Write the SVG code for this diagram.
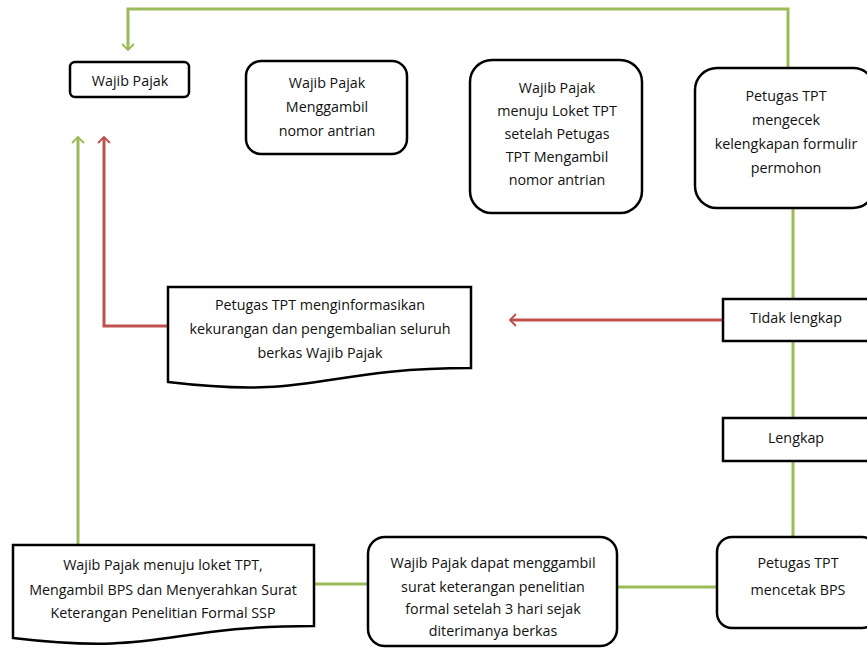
<svg xmlns="http://www.w3.org/2000/svg" width="867" height="648" viewBox="0 0 867 648">
<defs>
<style>
.box{fill:#fff;stroke:#000;stroke-width:2.5}
.t{font-family:"Open Sans","Liberation Sans",sans-serif;font-size:14.3px;fill:#111;text-anchor:middle}
.g{fill:none;stroke:#9BBB59;stroke-width:3}
.r{fill:none;stroke:#C0504D;stroke-width:3}
</style>
<marker id="ag" viewBox="0 0 12 12" refX="10" refY="6" markerWidth="6.5" markerHeight="6.5" markerUnits="userSpaceOnUse" orient="auto" overflow="visible">
<path d="M-1,-5 L10,6 L-1,17" fill="none" stroke="#9BBB59" stroke-width="3.5"/>
</marker>
<marker id="ar" viewBox="0 0 12 12" refX="10" refY="6" markerWidth="6.5" markerHeight="6.5" markerUnits="userSpaceOnUse" orient="auto" overflow="visible">
<path d="M-1,-5 L10,6 L-1,17" fill="none" stroke="#C0504D" stroke-width="3.5"/>
</marker>
</defs>
<rect width="867" height="648" fill="#fff"/>
<g id="connectors">
<path class="g" d="M788,69 V9 H128 V50" marker-end="url(#ag)"/>
<path class="g" d="M793,208 V299 M793,341 V418 M793,461 V537"/>
<path class="r" d="M723,320 H510" marker-end="url(#ar)"/>
<path class="r" d="M168,326 H104 V137" marker-end="url(#ar)"/>
<path class="g" d="M78,545 V137" marker-end="url(#ag)"/>
<path class="g" d="M314,584 H368"/>
<path class="g" d="M617,587 H717"/>
</g>
<g id="n1">
<rect class="box" x="70" y="62" width="119" height="35" rx="5"/>
<text class="t" x="130" y="86">Wajib Pajak</text>
</g>
<g id="n2">
<rect class="box" x="246" y="61" width="161" height="93" rx="15"/>
<text class="t" x="327" y="88">Wajib Pajak</text>
<text class="t" x="327" y="112">Menggambil</text>
<text class="t" x="327" y="136">nomor antrian</text>
</g>
<g id="n3">
<rect class="box" x="470" y="60" width="172" height="153" rx="22"/>
<text class="t" x="557" y="93">Wajib Pajak</text>
<text class="t" x="557" y="116">menuju Loket TPT</text>
<text class="t" x="557" y="139">setelah Petugas</text>
<text class="t" x="557" y="162">TPT Mengambil</text>
<text class="t" x="557" y="185">nomor antrian</text>
</g>
<g id="n4">
<rect class="box" x="695" y="68" width="180" height="140" rx="22"/>
<text class="t" x="786" y="101">Petugas TPT</text>
<text class="t" x="786" y="125">mengecek</text>
<text class="t" x="786" y="149">kelengkapan formulir</text>
<text class="t" x="786" y="173">permohon</text>
</g>
<g id="n5">
<rect class="box" x="723" y="299" width="150" height="42"/>
<text class="t" x="796" y="323">Tidak lengkap</text>
</g>
<g id="n6">
<rect class="box" x="723" y="418" width="150" height="43"/>
<text class="t" x="796" y="443">Lengkap</text>
</g>
<g id="n7">
<path class="box" d="M168,287 H471 V368 C319,368 319,400 168,382 Z"/>
<text class="t" x="320" y="310">Petugas TPT menginformasikan</text>
<text class="t" x="320" y="334">kekurangan dan pengembalian seluruh</text>
<text class="t" x="320" y="358">berkas Wajib Pajak</text>
</g>
<g id="n8">
<path class="box" d="M13,545 H314 V626 C163,626 163,656 13,638 Z"/>
<text class="t" x="163" y="570">Wajib Pajak menuju loket TPT,</text>
<text class="t" x="163" y="595">Mengambil BPS dan Menyerahkan Surat</text>
<text class="t" x="163" y="618">Keterangan Penelitian Formal SSP</text>
</g>
<g id="n9">
<rect class="box" x="368" y="537" width="249" height="109" rx="17"/>
<text class="t" x="493" y="568">Wajib Pajak dapat menggambil</text>
<text class="t" x="493" y="592">surat keterangan penelitian</text>
<text class="t" x="493" y="614">formal setelah 3 hari sejak</text>
<text class="t" x="493" y="636">diterimanya berkas</text>
</g>
<g id="n10">
<rect class="box" x="717" y="537" width="160" height="91" rx="15"/>
<text class="t" x="798" y="568">Petugas TPT</text>
<text class="t" x="798" y="595">mencetak BPS</text>
</g>
</svg>
